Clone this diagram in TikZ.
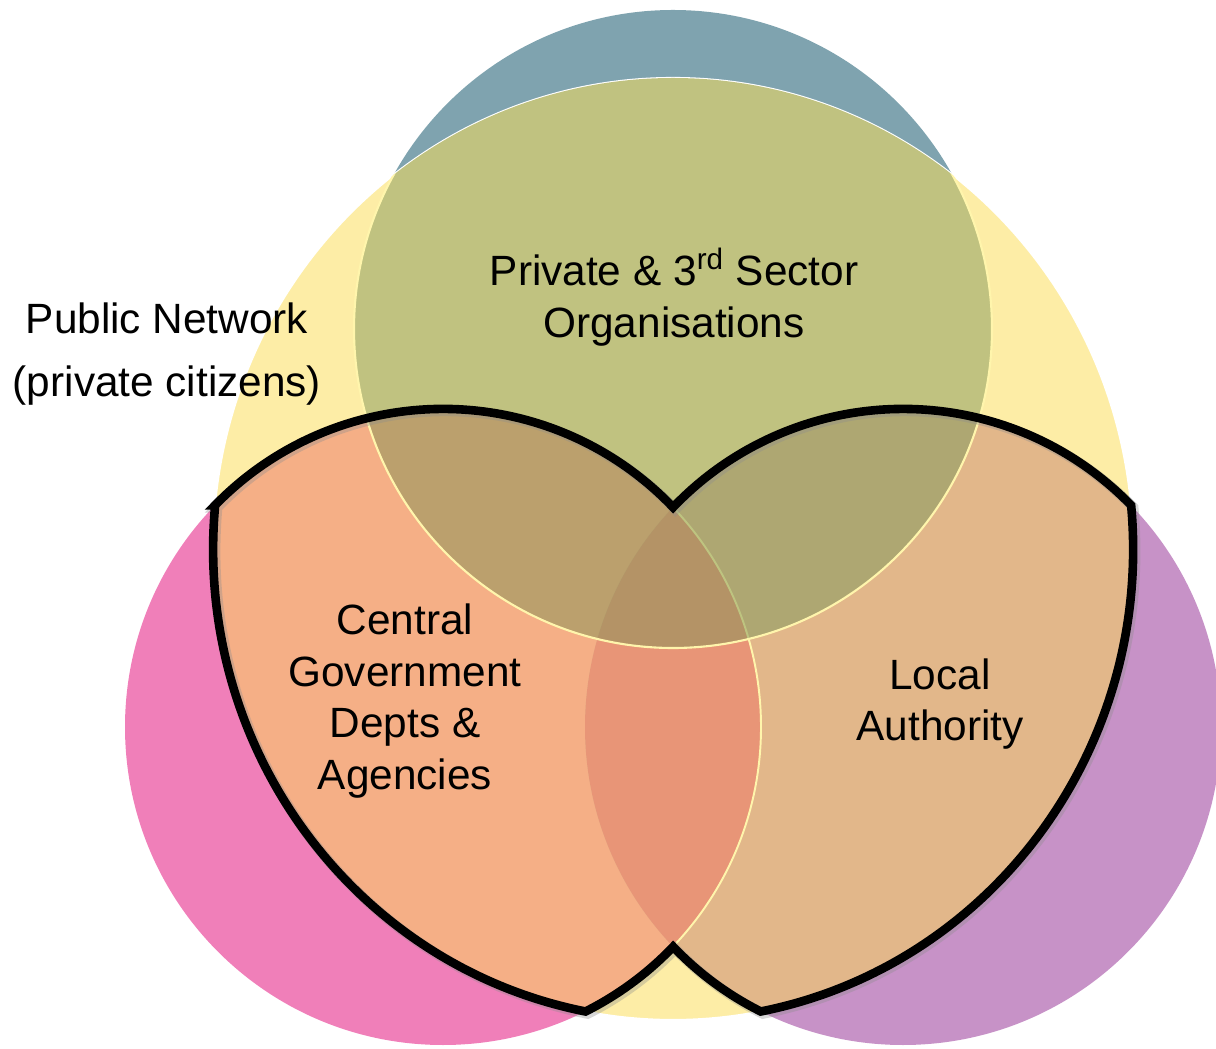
\documentclass[tikz,border=0pt]{standalone}
\usepackage{fontspec}
\setmainfont{Liberation Sans}
\definecolor{orgblue}{RGB}{127,163,175}
\definecolor{citpink}{RGB}{240,127,185}
\definecolor{lapurple}{RGB}{199,146,199}
\definecolor{pubyellow}{RGB}{253,237,166}
\definecolor{paleline}{RGB}{255,245,172}
\definecolor{orggreen}{RGB}{192,194,128}
\definecolor{cgsalmon}{RGB}{245,175,134}
\definecolor{latan}{RGB}{226,183,138}
\definecolor{cglarose}{RGB}{232,149,119}
\definecolor{orgcg}{RGB}{187,160,109}
\definecolor{orgla}{RGB}{174,167,114}
\definecolor{allthree}{RGB}{180,147,102}
\definecolor{olvline}{RGB}{190,196,128}
\begin{document}
\begin{tikzpicture}[x=0.02cm,y=0.02cm,
  lbl/.style={font=\fontsize{24.1}{29.5}\selectfont, align=center, inner sep=0pt},
  outline/.style={line width=4.9pt, line join=miter, miter limit=20}]
\useasboundingbox (0,0) rectangle (1216,1048);
% centres
\coordinate (bc) at (673,719);
\coordinate (pc) at (443,321);
\coordinate (qc) at (903,321);
\coordinate (yc) at (673,499);
% outer circles
\fill[orgblue] (bc) circle[radius=319];
\fill[citpink] (pc) circle[radius=318];
\fill[lapurple] (qc) circle[radius=318];
% public network
\filldraw[fill=pubyellow,draw=white,line width=1.2pt] (yc) ellipse[x radius=460,y radius=471];
% overlaps with the public network
\begin{scope}
  \clip (yc) ellipse[x radius=460,y radius=471];
  \fill[cgsalmon] (pc) circle[radius=318];
  \fill[latan] (qc) circle[radius=318];
  \begin{scope}
    \clip (qc) circle[radius=318];
    \fill[cglarose] (pc) circle[radius=318];
    \draw[paleline,line width=1.1pt] (pc) circle[radius=318];
  \end{scope}
  \begin{scope}
    \clip (bc) circle[radius=319];
    \fill[orggreen] (bc) circle[radius=319];
    \fill[orgcg] (pc) circle[radius=318];
    \fill[orgla] (qc) circle[radius=318];
    \clip (qc) circle[radius=318];
    \fill[allthree] (pc) circle[radius=318];
    \draw[olvline,line width=1.1pt] (pc) circle[radius=318];
  \end{scope}
  \draw[paleline,line width=1.2pt] (bc) circle[radius=319];
\end{scope}
% black outline of government shapes
\draw[outline,preaction={draw,black!45,opacity=.35,line width=5.9pt,transform canvas={shift={(1.2pt,-1.2pt)}}}]
  (215.02,542.70) arc[start angle=135.82,end angle=43.67,radius=318]
  arc[start angle=136.33,end angle=44.18,radius=318]
  arc[start angle=5.34,end angle=-79.02,x radius=460,y radius=471]
  arc[start angle=-116.6,end angle=-136.33,radius=318]
  arc[start angle=-43.67,end angle=-63.4,radius=318]
  arc[start angle=259.02,end angle=174.66,x radius=460,y radius=471] -- cycle;
% labels
\node[lbl] (priv) at (674,751) {Private \& 3\textsuperscript{rd} Sector\\Organisations};
\node[lbl] (cgov) at (405,347) {Central\\Government\\Depts \&\\Agencies};
\node[lbl] (locl) at (940,344) {Local\\Authority};
\node[lbl] (pubn) at (167,694) {Public Network\\[6pt](private citizens)};
\end{tikzpicture}
\end{document}
